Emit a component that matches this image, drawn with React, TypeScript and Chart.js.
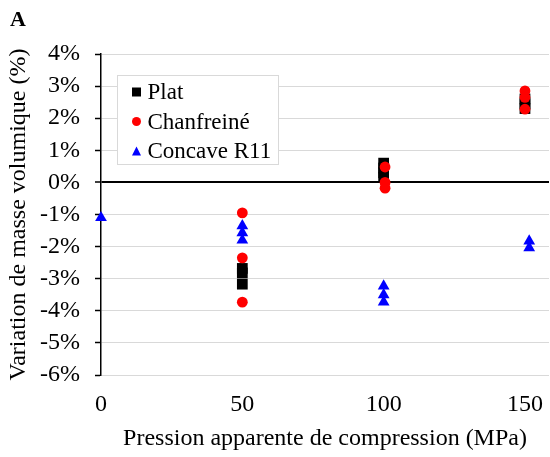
import React, { useEffect, useRef } from "react";
import { Chart, registerables } from "chart.js";

Chart.register(...registerables);

const panelLabel = "A";
const seriesNames = ["Plat", "Chanfreiné", "Concave R11"];
const seriesColors = ["#000000", "#ff0000", "#0000ff"];
const seriesShapes = ["rect", "circle", "triangle"];
const seriesRadius = [7.6, 5.4, 6.8];

const platX = [50, 50, 50, 100, 100, 100, 100, 150, 150, 150];
const platY = [-2.68, -2.82, -3.17, 0.6, 0.45, 0.3, 0.15, 2.6, 2.45, 2.3];

const chanfX = [50, 50, 50, 100.5, 100.5, 100.5, 150, 150, 150];
const chanfY = [-0.95, -2.35, -3.73, 0.48, 0.0, -0.18, 2.85, 2.65, 2.28];

const concX = [0, 50, 50, 50, 100, 100, 100, 151.5, 151.5];
const concY = [-1.1, -1.35, -1.57, -1.8, -3.23, -3.5, -3.73, -1.83, -2.04];

const xTicks = [0, 50, 100, 150];
const xMin = 0;
const xMax = 158.5;
const yMin = -6;
const yMax = 4;
const xTitle = "Pression apparente de compression (MPa)";
const yTitle = "Variation de masse volumique (%)";

const FONT = "'Liberation Serif', 'Times New Roman', serif";

function toPoints(xs: number[], ys: number[]) {
  return xs.map((x, i) => ({ x, y: ys[i] }));
}

function drawMarker(ctx: CanvasRenderingContext2D, shape: string, x: number, y: number, s: number, color: string) {
  ctx.fillStyle = color;
  ctx.beginPath();
  if (shape === "rect") {
    ctx.rect(x - s / 2, y - s / 2, s, s);
  } else if (shape === "circle") {
    ctx.arc(x, y, s / 2, 0, Math.PI * 2);
  } else {
    ctx.moveTo(x, y - s / 2);
    ctx.lineTo(x + s / 2, y + s / 2);
    ctx.lineTo(x - s / 2, y + s / 2);
    ctx.closePath();
  }
  ctx.fill();
}

const overlayPlugin = {
  id: "overlay",
  afterDraw(chart: any) {
    const ctx: CanvasRenderingContext2D = chart.ctx;
    const area = chart.chartArea;
    ctx.save();
    // panel label
    ctx.fillStyle = "#000";
    ctx.font = `bold 22px ${FONT}`;
    ctx.textBaseline = "alphabetic";
    ctx.textAlign = "left";
    ctx.fillText(panelLabel, 10, 26);

    // legend
    const bx = area.left + 16.5;
    const by = area.top + 21.5;
    const bw = 161;
    const bh = 89;
    ctx.fillStyle = "#ffffff";
    ctx.fillRect(bx, by, bw, bh);
    ctx.strokeStyle = "#d9d9d9";
    ctx.lineWidth = 1;
    ctx.strokeRect(bx, by, bw, bh);
    ctx.font = `23px ${FONT}`;
    ctx.textBaseline = "middle";
    seriesNames.forEach((name, i) => {
      const cy = by + 16.5 + i * 29.5;
      drawMarker(ctx, seriesShapes[i], bx + 19, cy, 9, seriesColors[i]);
      ctx.fillStyle = "#000";
      ctx.fillText(name, bx + 30, cy + 1);
    });
    ctx.restore();
  },
};

export default function App() {
  const canvasRef = useRef<HTMLCanvasElement | null>(null);

  useEffect(() => {
    if (!canvasRef.current) return;
    const xsList = [platX, chanfX, concX];
    const ysList = [platY, chanfY, concY];
    const chart = new Chart(canvasRef.current, {
      type: "scatter",
      data: {
        datasets: seriesNames.map((name, i) => ({
          label: name,
          data: toPoints(xsList[i], ysList[i]),
          backgroundColor: seriesColors[i],
          borderColor: seriesColors[i],
          borderWidth: 0,
          pointStyle: seriesShapes[i] as any,
          pointRadius: seriesRadius[i],
          pointHoverRadius: seriesRadius[i],
          order: seriesNames.length - i,
          clip: false as any,
        })),
      },
      options: {
        animation: false,
        responsive: false,
        devicePixelRatio: 1,
        layout: { autoPadding: false, padding: { top: 54, right: 1, bottom: 0, left: 0 } },
        plugins: {
          legend: { display: false },
          tooltip: { enabled: false },
        },
        scales: {
          x: {
            type: "linear",
            min: xMin,
            max: xMax,
            afterBuildTicks: (scale: any) => {
              scale.ticks = xTicks.map((v) => ({ value: v }));
            },
            afterFit: (scale: any) => {
              scale.height = 82;
              scale.paddingLeft = 0;
              scale.paddingRight = 0;
            },
            grid: { display: false, drawTicks: false },
            border: { display: false },
            ticks: {
              color: "#000",
              padding: 15,
              font: { family: FONT, size: 24 },
              maxRotation: 0,
            },
            title: {
              display: true,
              text: xTitle,
              color: "#000",
              font: { family: FONT, size: 24 },
              padding: { top: 0, bottom: 4 },
            },
          },
          y: {
            type: "linear",
            min: yMin,
            max: yMax,
            afterFit: (scale: any) => {
              scale.width = 101;
            },
            ticks: {
              stepSize: 1,
              color: "#000",
              padding: 15,
              font: { family: FONT, size: 24 },
              callback: (v: any) => `${v}%`,
            },
            grid: {
              color: (c: any) => (c.tick && c.tick.value === 0 ? "#000000" : "#d9d9d9"),
              lineWidth: (c: any) => (c.tick && c.tick.value === 0 ? 2 : 1),
              tickColor: "#000000",
              tickLength: 6,
              tickWidth: 1.5,
            },
            border: { display: true, color: "#000000", width: 1.5 },
            title: {
              display: true,
              text: yTitle,
              color: "#000",
              font: { family: FONT, size: 24 },
              padding: { top: 4, bottom: 0 },
            },
          },
        },
      },
      plugins: [overlayPlugin],
    });
    return () => chart.destroy();
  }, []);

  return (
    <div style={{ position: "fixed", left: 0, top: 0, width: 550, height: 457, background: "#fff" }}>
      <canvas ref={canvasRef} width={550} height={457} style={{ display: "block" }} />
    </div>
  );
}
